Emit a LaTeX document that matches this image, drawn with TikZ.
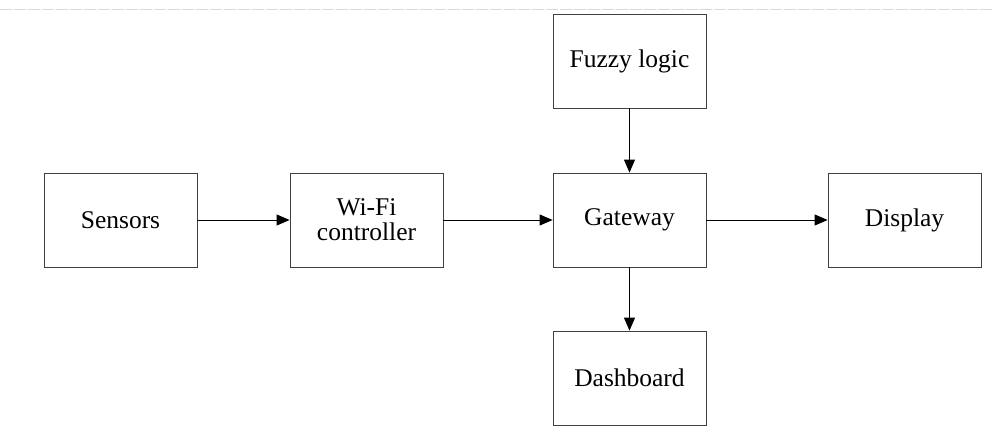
\documentclass[tikz,border=0pt]{standalone}
\usepackage{fontspec}
\setmainfont{Liberation Serif}
\usetikzlibrary{arrows.meta}
\begin{document}
\begin{tikzpicture}[x=1pt,y=-1pt,
  blk/.style={draw=black!75,line width=0.8pt,minimum width=153pt,minimum height=94pt,inner sep=2pt,align=center,font=\fontsize{25.5}{25}\selectfont},
  conn/.style={line width=0.9pt,-{Triangle[length=13pt,width=11pt]}}]
\useasboundingbox (0,0) rectangle (993,447);
\draw[black!15,line width=0.6pt,dash pattern=on 12pt off 2pt] (0,9) -- (993,9);
\node[blk] (sens) at (120.5,220) {Sensors};
\node[blk] (wifi) at (366.5,220) {Wi-Fi\\controller};
\node[blk] (gw) at (629.5,220) {Gateway};
\node[blk] (disp) at (904.5,220) {Display};
\node[blk] (fuzzy) at (629.5,61) {Fuzzy logic};
\node[blk] (dash) at (629.5,378) {Dashboard};
\draw[conn] (sens) -- (wifi);
\draw[conn] (wifi) -- (gw);
\draw[conn] (gw) -- (disp);
\draw[conn] (fuzzy) -- (gw);
\draw[conn] (gw) -- (dash);
\end{tikzpicture}
\end{document}
